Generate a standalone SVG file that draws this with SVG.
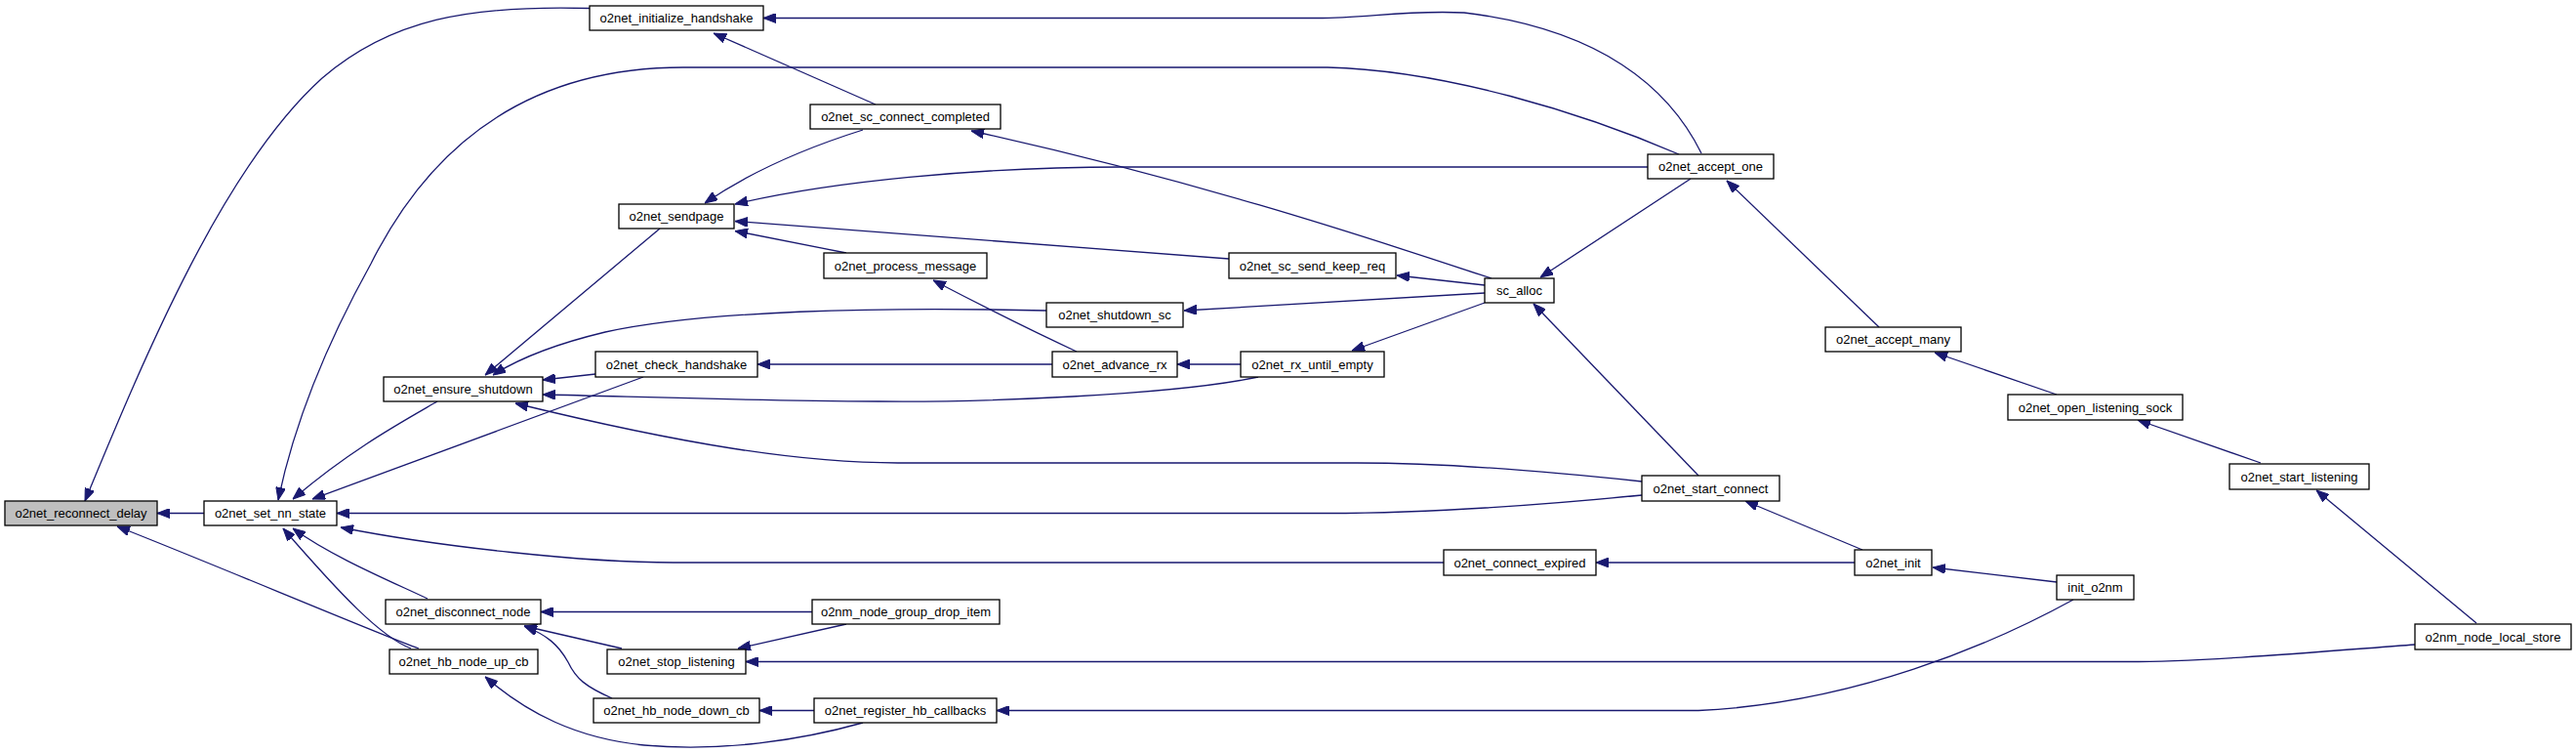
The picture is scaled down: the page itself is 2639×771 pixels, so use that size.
<svg xmlns="http://www.w3.org/2000/svg" width="2639" height="771" viewBox="0 0 2639 771">
<defs>
<style>
.n rect{fill:#fff;stroke:#000;stroke-width:1.3}
.n.root rect{fill:#bfbfbf}
.n text{font-family:"Liberation Sans",Arial,sans-serif;font-size:13px;text-anchor:middle;fill:#000}
.e path{fill:none;stroke:#191970;stroke-width:1.3;marker-end:url(#ah)}
</style>
<marker id="ah" markerUnits="userSpaceOnUse" viewBox="0 0 13 10" refX="13" refY="5" markerWidth="13" markerHeight="10" orient="auto">
<path d="M0,0 L13,5 L0,10 z" fill="#191970" stroke="#191970" stroke-width="1"/>
</marker>
</defs>
<rect width="2639" height="771" fill="#fff"/>
<g id="edges" class="e">
<path d="M209,525.5 L161,525.5"/>
<path d="M604,8.5 C480,5 400,20 330,80 C230,170 150,360 87,513"/>
<path d="M429,664 C390,650 200,570 120,539"/>
<path d="M1720,158 C1620,115 1480,72 1360,69 L700,69 C560,69 450,130 380,270 C330,360 300,440 285,512"/>
<path d="M448,411 C410,433 360,460 300,511"/>
<path d="M659,386 L320,511"/>
<path d="M1682,507 C1550,520 1450,525.5 1360,525.5 L345,525.5"/>
<path d="M1479,576 L690,576 C600,576 450,560 349,540"/>
<path d="M438,613 C400,595 340,570 300,541"/>
<path d="M421,664 C390,652 350,610 290,541"/>
<path d="M676,234 L497,384"/>
<path d="M1072,318 C900,314 720,318 620,340 C570,352 530,368 505,384"/>
<path d="M610,383 L556,389"/>
<path d="M1289,386 C1200,405 1000,412 900,411 C750,410 650,406 556,404"/>
<path d="M1682,493 C1580,482 1470,474 1390,474 L920,474 C820,474 700,455 528,413"/>
<path d="M884,133 C830,150 770,175 722,208"/>
<path d="M1688,171 L1150,171 C1000,171 850,186 753,209"/>
<path d="M1259,265 L753,226.5"/>
<path d="M867,259 L753,236.5"/>
<path d="M897,107 L731,34"/>
<path d="M1743,157 C1710,90 1640,30 1500,13 C1440,10 1400,18.5 1350,18.5 L782,18.5"/>
<path d="M1528,285 C1450,260 1250,190 995,134"/>
<path d="M1103,360 C1060,340 1000,310 956,287"/>
<path d="M1078,373 L776,373"/>
<path d="M1521,300 L1213,318"/>
<path d="M1271,373 L1206,373"/>
<path d="M1521,292 L1431,282"/>
<path d="M1521,310 L1385,359"/>
<path d="M1732,183 L1578,284"/>
<path d="M1740,487 L1571,311"/>
<path d="M1925,335 L1769,185"/>
<path d="M2107,404 L1982,361"/>
<path d="M2316,474 L2190,430"/>
<path d="M2537,638 L2373,502"/>
<path d="M1908,563 L1788,513"/>
<path d="M1900,576 L1635,576"/>
<path d="M2107,596 L1980,581"/>
<path d="M832,626.5 L554,626.5"/>
<path d="M867,639 L756,664"/>
<path d="M637,664 L537,641"/>
<path d="M627,715 C600,703 590,695 582,678 C572,660 560,650 537,641"/>
<path d="M2474,660 C2380,667 2260,677.5 2180,677.5 L764,677.5"/>
<path d="M884,740 C820,758 740,770 660,763 C590,756 540,730 497,693"/>
<path d="M834,727.5 L778,727.5"/>
<path d="M2124,614 C2040,660 1900,720 1740,727.5 L1021,727.5"/>
</g>
<g id="o2net_reconnect_delay" class="n root"><rect x="5" y="513" width="156" height="25"/><text x="83" y="530">o2net_reconnect_delay</text></g>
<g id="o2net_set_nn_state" class="n"><rect x="209" y="513" width="136" height="25"/><text x="277" y="530">o2net_set_nn_state</text></g>
<g id="o2net_ensure_shutdown" class="n"><rect x="393" y="386" width="163" height="25"/><text x="474.5" y="403">o2net_ensure_shutdown</text></g>
<g id="o2net_disconnect_node" class="n"><rect x="395" y="614" width="159" height="25"/><text x="474.5" y="631">o2net_disconnect_node</text></g>
<g id="o2net_hb_node_up_cb" class="n"><rect x="399" y="665" width="152" height="25"/><text x="475" y="682">o2net_hb_node_up_cb</text></g>
<g id="o2net_initialize_handshake" class="n"><rect x="604" y="6" width="178" height="25"/><text x="693" y="23">o2net_initialize_handshake</text></g>
<g id="o2net_sc_connect_completed" class="n"><rect x="830" y="107" width="195" height="25"/><text x="927.5" y="124">o2net_sc_connect_completed</text></g>
<g id="o2net_sendpage" class="n"><rect x="634" y="209" width="118" height="25"/><text x="693" y="226">o2net_sendpage</text></g>
<g id="o2net_process_message" class="n"><rect x="844" y="259" width="167" height="26"/><text x="927.5" y="276.5">o2net_process_message</text></g>
<g id="o2net_shutdown_sc" class="n"><rect x="1072" y="310" width="140" height="25"/><text x="1142" y="327">o2net_shutdown_sc</text></g>
<g id="o2net_check_handshake" class="n"><rect x="610" y="360" width="166" height="26"/><text x="693" y="377.5">o2net_check_handshake</text></g>
<g id="o2net_advance_rx" class="n"><rect x="1078" y="360" width="128" height="26"/><text x="1142" y="377.5">o2net_advance_rx</text></g>
<g id="o2nm_node_group_drop_item" class="n"><rect x="832" y="614" width="192" height="25"/><text x="928" y="631">o2nm_node_group_drop_item</text></g>
<g id="o2net_stop_listening" class="n"><rect x="622" y="665" width="142" height="25"/><text x="693" y="682">o2net_stop_listening</text></g>
<g id="o2net_hb_node_down_cb" class="n"><rect x="608" y="715" width="170" height="25"/><text x="693" y="732">o2net_hb_node_down_cb</text></g>
<g id="o2net_register_hb_callbacks" class="n"><rect x="834" y="715" width="187" height="25"/><text x="927.5" y="732">o2net_register_hb_callbacks</text></g>
<g id="o2net_accept_one" class="n"><rect x="1688" y="158" width="129" height="25"/><text x="1752.5" y="175">o2net_accept_one</text></g>
<g id="o2net_sc_send_keep_req" class="n"><rect x="1259" y="259" width="171" height="26"/><text x="1344.5" y="276.5">o2net_sc_send_keep_req</text></g>
<g id="sc_alloc" class="n"><rect x="1521" y="285" width="71" height="25"/><text x="1556.5" y="302">sc_alloc</text></g>
<g id="o2net_rx_until_empty" class="n"><rect x="1271" y="360" width="147" height="26"/><text x="1344.5" y="377.5">o2net_rx_until_empty</text></g>
<g id="o2net_start_connect" class="n"><rect x="1682" y="487" width="141" height="26"/><text x="1752.5" y="504.5">o2net_start_connect</text></g>
<g id="o2net_connect_expired" class="n"><rect x="1479" y="563" width="156" height="26"/><text x="1557" y="580.5">o2net_connect_expired</text></g>
<g id="o2net_accept_many" class="n"><rect x="1870" y="335" width="139" height="25"/><text x="1939.5" y="352">o2net_accept_many</text></g>
<g id="o2net_open_listening_sock" class="n"><rect x="2057" y="404" width="179" height="26"/><text x="2146.5" y="421.5">o2net_open_listening_sock</text></g>
<g id="o2net_start_listening" class="n"><rect x="2284" y="475" width="143" height="26"/><text x="2355.5" y="492.5">o2net_start_listening</text></g>
<g id="o2net_init" class="n"><rect x="1900" y="563" width="79" height="26"/><text x="1939.5" y="580.5">o2net_init</text></g>
<g id="init_o2nm" class="n"><rect x="2107" y="589" width="79" height="25"/><text x="2146.5" y="606">init_o2nm</text></g>
<g id="o2nm_node_local_store" class="n"><rect x="2474" y="639" width="160" height="26"/><text x="2554" y="656.5">o2nm_node_local_store</text></g>
</svg>
